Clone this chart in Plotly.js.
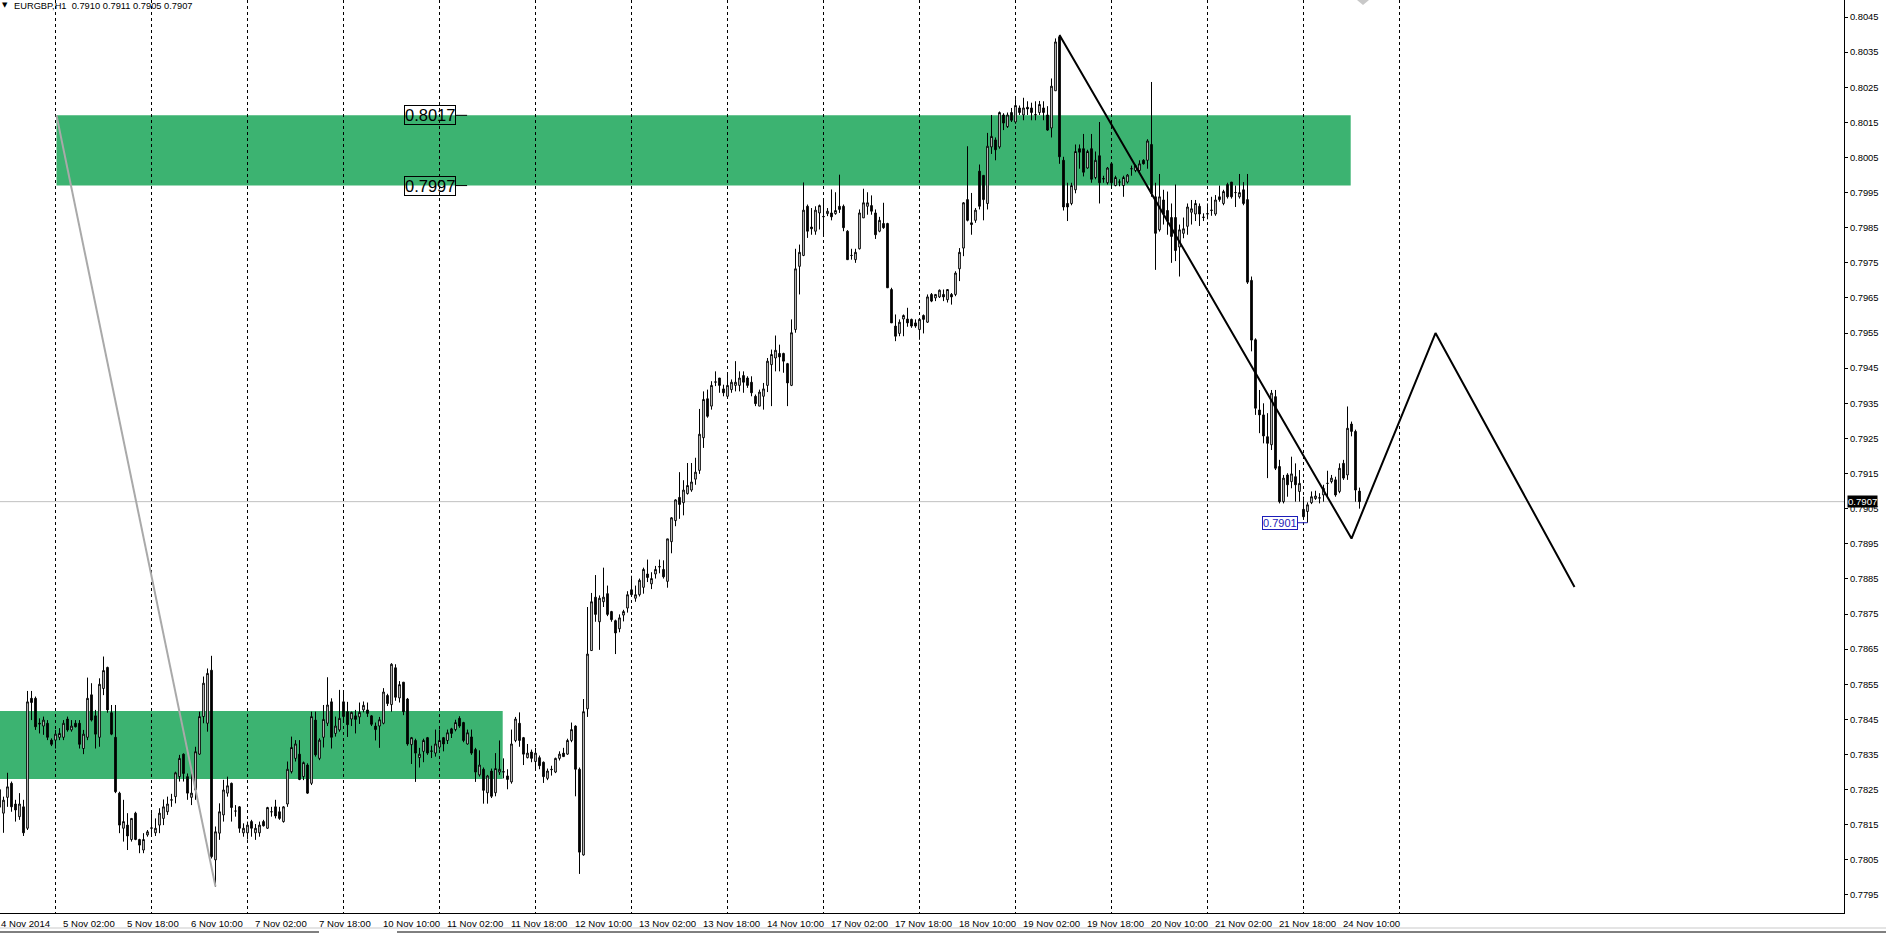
<!DOCTYPE html>
<html><head><meta charset="utf-8">
<script src="https://cdn.plot.ly/plotly-3.0.1.min.js"></script>
<style>html,body{margin:0;padding:0;background:#fff;overflow:hidden}#chart{width:1886px;height:934px}</style>
</head><body><div id="chart"></div>
<script>
// ---------------- DATA ----------------
const symbol = 'EURGBP,H1';
const firstBar = 10; // hourly bar index counted from 4 Nov 2014 00:00 (24 bars per trading day)

const opens = [
.78250,.78183,.78228,.78268,.78209,.78173,.78201,.78140,.78510,.78510,.78439,.78431,.78439,.78391,
.78391,.78399,.78399,.78451,.78420,.78439,.78439,.78367,.78399,.78520,.78460,.78399,.78538,.78598,.78469,.78399,.78240,.78140,.78149,.78108,.78183,.78108,.78078,.78121,
.78140,.78127,.78149,.78168,.78187,.78220,.78230,.78287,.78351,.78287,.78228,.78249,.78351,.78458,.78439,.78590,.78050,.78126,.78178,.78240,.78268,.78189,.78201,.78127,
.78127,.78159,.78127,.78127,.78159,.78140,.78187,.78201,.78187,.78159,.78209,.78301,.78339,.78351,.78287,.78320,.78268,.78448,.78339,.78399,.78439,.78500,.78410,.78420,
.78500,.78472,.78451,.78460,.78457,.78477,.78477,.78460,.78431,.78431,.78439,.78518,.78492,.78597,.78511,.78556,.78508,.78378,.78390,.78341,.78359,.78398,.78359,.78354,
.78371,.78398,.78390,.78423,.78421,.78453,.78441,.78380,.78400,.78364,.78292,.78308,.78241,.78303,.78241,.78300,.78300,.78289,.78272,.78390,.78439,.78398,.78341,.78357,
.78330,.78341,.78328,.78282,.78308,.78300,.78339,.78354,.78351,.78390,.78431,.78308,.78064,.78480,.78646,.78798,.78728,.78785,.78808,.78757,.78731,.78708,.78747,.78767,
.78819,.78795,.78805,.78826,.78864,.78836,.78864,.78884,.78877,.78843,.78956,.79016,.79082,.79067,.79093,.79103,.79134,.79159,.79252,.79363,.79342,.79410,.79422,.79391,
.79370,.79389,.79401,.79401,.79429,.79422,.79410,.79370,.79342,.79370,.79401,.79460,.79479,.79492,.79492,.79463,.79401,.79560,.79740,.79771,.79911,.79852,.79840,.79892,
.79881,.79890,.79892,.79890,.79911,.79911,.79840,.79771,.79759,.79790,.79878,.79911,.79913,.79892,.79840,.79862,.79862,.79674,.79570,.79549,.79590,.79590,.79589,.79579,
.79560,.79600,.79581,.79660,.79650,.79653,.79660,.79645,.79660,.79660,.79733,.79792,.79930,.79864,.79871,.80011,.79999,.79919,.80080,.80100,.80080,.80171,.80138,.80178,
.80151,.80191,.80171,.80193,.80191,.80171,.80178,.80191,.80171,.80134,.80240,.80394,.80042,.79919,.79919,.79958,.80075,.80075,.80020,.80075,.79993,.80055,.79990,.79978,
.80032,.79970,.79980,.79970,.79980,.80018,.80013,.80013,.80042,.80042,.80087,.79938,.79844,.79929,.79899,.79879,.79879,.79795,.79834,.79854,.79894,.79889,.79911,.79879,
.79889,.79899,.79889,.79938,.79919,.79973,.79980,.79950,.79938,.79958,.79930,.79700,.79531,.79331,.79317,.79255,.79232,.79369,.79170,.79070,.79146,.79127,.79141,.79099,
.79048,.79042,.79067,.79079,.79080,.79089,.79122,.79127,.79132,.79099,.79179,.79146,.79291,.79270,.79100
];
const highs = [
.78270,.78230,.78298,.78273,.78221,.78240,.78221,.78531,.78531,.78515,.78453,.78458,.78448,.78396,
.78420,.78425,.78448,.78458,.78448,.78448,.78448,.78420,.78569,.78553,.78477,.78567,.78629,.78600,.78491,.78491,.78244,.78221,.78183,.78168,.78187,.78110,.78126,.78135,
.78183,.78168,.78197,.78222,.78230,.78238,.78301,.78349,.78353,.78296,.78296,.78372,.78472,.78572,.78595,.78631,.78145,.78211,.78278,.78287,.78270,.78206,.78203,.78154,
.78159,.78164,.78152,.78159,.78164,.78201,.78201,.78221,.78201,.78203,.78330,.78401,.78391,.78391,.78330,.78325,.78472,.78472,.78396,.78491,.78570,.78510,.78458,.78534,
.78528,.78500,.78472,.78477,.78498,.78501,.78498,.78462,.78441,.78457,.78539,.78523,.78610,.78607,.78559,.78556,.78511,.78400,.78395,.78369,.78395,.78400,.78375,.78421,
.78421,.78400,.78421,.78426,.78449,.78459,.78443,.78421,.78421,.78369,.78362,.78313,.78292,.78310,.78354,.78390,.78339,.78308,.78421,.78457,.78470,.78400,.78380,.78364,
.78369,.78347,.78330,.78310,.78318,.78341,.78359,.78369,.78395,.78441,.78433,.78313,.78508,.78770,.78810,.78861,.78803,.78882,.78831,.78759,.78734,.78749,.78762,.78815,
.78859,.78831,.78851,.78882,.78905,.78869,.78887,.78905,.78903,.78964,.79026,.79077,.79154,.79131,.79180,.79180,.79195,.79334,.79384,.79389,.79413,.79441,.79422,.79403,
.79437,.79418,.79470,.79441,.79441,.79427,.79427,.79375,.79389,.79408,.79479,.79503,.79543,.79517,.79494,.79465,.79589,.79790,.79802,.79979,.79916,.79906,.79911,.79916,
.79926,.79906,.79959,.79951,.80001,.79916,.79843,.79790,.79790,.79902,.79961,.79951,.79942,.79902,.79881,.79921,.79864,.79679,.79603,.79589,.79603,.79622,.79591,.79589,
.79593,.79603,.79660,.79664,.79660,.79674,.79674,.79674,.79664,.79726,.79792,.79923,.80082,.79949,.79906,.80030,.79999,.80120,.80171,.80107,.80181,.80176,.80178,.80191,
.80216,.80198,.80220,.80210,.80206,.80210,.80211,.80210,.80196,.80275,.80389,.80399,.80052,.79978,.79978,.80087,.80087,.80117,.80072,.80117,.80067,.80151,.79998,.80023,
.80037,.79998,.79988,.79998,.80003,.80027,.80030,.80042,.80045,.80102,.80265,.79978,.80003,.79958,.79953,.79919,.79973,.79859,.79879,.79919,.79929,.79929,.79919,.79891,
.79919,.79938,.79943,.79970,.79958,.79978,.79980,.79970,.80003,.79980,.80003,.79711,.79535,.79388,.79350,.79322,.79388,.79388,.79189,.79146,.79151,.79198,.79179,.79160,
.79084,.79068,.79099,.79101,.79094,.79118,.79158,.79146,.79141,.79179,.79189,.79341,.79298,.79275,.79110
];
const lows = [
.78150,.78127,.78201,.78187,.78159,.78164,.78118,.78135,.78448,.78420,.78410,.78406,.78391,.78374,
.78367,.78391,.78391,.78415,.78415,.78427,.78367,.78351,.78391,.78444,.78367,.78372,.78519,.78469,.78405,.78240,.78126,.78102,.78078,.78102,.78106,.78069,.78069,.78116,
.78118,.78118,.78126,.78149,.78178,.78201,.78211,.78273,.78273,.78221,.78206,.78221,.78349,.78439,.78415,.78054,.77974,.78107,.78159,.78230,.78159,.78173,.78127,.78116,
.78108,.78116,.78107,.78116,.78145,.78138,.78173,.78168,.78164,.78156,.78201,.78296,.78330,.78277,.78277,.78238,.78263,.78344,.78334,.78370,.78431,.78367,.78401,.78415,
.78441,.78400,.78431,.78410,.78437,.78470,.78457,.78431,.78390,.78369,.78436,.78488,.78472,.78503,.78498,.78462,.78375,.78323,.78272,.78313,.78328,.78349,.78340,.78344,
.78364,.78359,.78380,.78397,.78416,.78426,.78385,.78378,.78349,.78272,.78287,.78210,.78210,.78226,.78231,.78292,.78282,.78251,.78267,.78385,.78372,.78320,.78339,.78328,
.78308,.78308,.78269,.78277,.78290,.78297,.78333,.78349,.78349,.78385,.78231,.78010,.78062,.78457,.78646,.78728,.78648,.78770,.78744,.78728,.78636,.78698,.78729,.78754,
.78800,.78785,.78800,.78808,.78841,.78821,.78851,.78866,.78851,.78825,.78923,.79000,.79021,.79031,.79090,.79098,.79118,.79149,.79223,.79309,.79332,.79399,.79380,.79370,
.79366,.79380,.79384,.79384,.79380,.79394,.79370,.79342,.79342,.79332,.79382,.79342,.79441,.79441,.79437,.79342,.79399,.79551,.79660,.79769,.79821,.79830,.79830,.79845,
.79824,.79883,.79871,.79887,.79892,.79840,.79759,.79759,.79750,.79788,.79878,.79887,.79887,.79818,.79837,.79847,.79679,.79579,.79527,.79541,.79541,.79568,.79565,.79565,
.79531,.79549,.79579,.79638,.79641,.79650,.79641,.79637,.79631,.79655,.79698,.79769,.79868,.79830,.79864,.79902,.79871,.79902,.80060,.80042,.80075,.80128,.80134,.80151,
.80146,.80171,.80156,.80171,.80156,.80156,.80171,.80156,.80126,.80107,.80240,.80032,.79899,.79869,.79914,.79948,.80018,.79996,.80018,.79978,.79988,.79919,.79978,.79973,
.79968,.79968,.79968,.79938,.79976,.79998,.80008,.80008,.80030,.80018,.79938,.79730,.79839,.79859,.79830,.79750,.79755,.79711,.79820,.79830,.79859,.79869,.79855,.79869,
.79874,.79884,.79884,.79924,.79914,.79933,.79933,.79909,.79933,.79914,.79690,.79498,.79317,.79265,.79236,.79137,.79217,.79160,.79065,.79065,.79084,.79108,.79070,.79070,
.79018,.79010,.79063,.79075,.79065,.79070,.79084,.79122,.79084,.79094,.79132,.79132,.79256,.79070,.79050
];
const closes = [
.78200,.78220,.78258,.78201,.78192,.78209,.78127,.78500,.78498,.78429,.78437,.78448,.78399,.78379,
.78408,.78410,.78439,.78420,.78431,.78429,.78379,.78408,.78510,.78448,.78408,.78550,.78589,.78477,.78408,.78244,.78149,.78159,.78118,.78168,.78108,.78092,.78108,.78130,
.78141,.78140,.78183,.78201,.78209,.78221,.78298,.78339,.78296,.78240,.78240,.78358,.78458,.78553,.78581,.78059,.78130,.78187,.78249,.78261,.78199,.78189,.78140,.78140,
.78149,.78140,.78140,.78149,.78147,.78199,.78187,.78175,.78168,.78201,.78308,.78370,.78380,.78279,.78327,.78240,.78458,.78349,.78391,.78450,.78491,.78399,.78431,.78453,
.78458,.78435,.78470,.78450,.78470,.78490,.78467,.78436,.78421,.78449,.78528,.78495,.78607,.78513,.78549,.78472,.78380,.78398,.78354,.78351,.78390,.78354,.78360,.78380,
.78390,.78380,.78412,.78410,.78441,.78431,.78390,.78412,.78354,.78300,.78320,.78248,.78289,.78231,.78310,.78308,.78301,.78279,.78380,.78451,.78390,.78351,.78354,.78339,
.78354,.78318,.78287,.78303,.78307,.78339,.78351,.78344,.78390,.78421,.78308,.78072,.78472,.78636,.78785,.78749,.78795,.78798,.78749,.78734,.78696,.78739,.78757,.78805,
.78805,.78805,.78846,.78877,.78854,.78851,.78877,.78885,.78856,.78964,.79024,.79075,.79062,.79103,.79116,.79126,.79154,.79262,.79361,.79313,.79401,.79411,.79401,.79380,
.79401,.79410,.79410,.79422,.79410,.79401,.79380,.79349,.79382,.79391,.79470,.79489,.79501,.79482,.79470,.79408,.79551,.79733,.79780,.79900,.79840,.79847,.79900,.79913,
.79882,.79897,.79881,.79899,.79902,.79850,.79759,.79771,.79780,.79892,.79921,.79921,.79897,.79830,.79871,.79850,.79679,.79579,.79541,.79581,.79600,.79579,.79570,.79570,
.79589,.79589,.79653,.79641,.79660,.79672,.79653,.79674,.79653,.79721,.79780,.79921,.79871,.79859,.79900,.79911,.79930,.80082,.80110,.80072,.80178,.80148,.80171,.80156,
.80198,.80178,.80191,.80188,.80178,.80172,.80201,.80178,.80128,.80253,.80379,.80052,.79909,.79909,.79970,.80067,.80065,.80008,.80067,.79988,.80042,.79978,.79989,.80020,
.79978,.79993,.79980,.79993,.80000,.80018,.80027,.80032,.80032,.80097,.79948,.79834,.79938,.79889,.79869,.79825,.79785,.79844,.79847,.79909,.79904,.79919,.79889,.79880,
.79890,.79900,.79929,.79930,.79953,.79938,.79938,.79950,.79950,.79919,.79695,.79530,.79336,.79317,.79257,.79236,.79379,.79165,.79070,.79137,.79118,.79149,.79118,.79122,
.79027,.79061,.79084,.79086,.79081,.79108,.79122,.79137,.79089,.79165,.79137,.79279,.79270,.79103,.79070
];

const daySeparators = [24,48,72,96,120,144,168,192,216,240,264,288,312,336,360];
const timeLabelBars = [10,26,42,58,74,90,106,122,138,154,170,186,202,218,234,250,266,282,298,314,330,346];
const timeLabels = ['4 Nov 2014','5 Nov 02:00','5 Nov 18:00','6 Nov 10:00','7 Nov 02:00','7 Nov 18:00',
  '10 Nov 10:00','11 Nov 02:00','11 Nov 18:00','12 Nov 10:00','13 Nov 02:00','13 Nov 18:00','14 Nov 10:00',
  '17 Nov 02:00','17 Nov 18:00','18 Nov 10:00','19 Nov 02:00','19 Nov 18:00','20 Nov 10:00','21 Nov 02:00',
  '21 Nov 18:00','24 Nov 10:00'];

// rectangles: [startBar, endBar, upperPrice, lowerPrice]
const upperZone = [24.25, 347.8, 0.8017, 0.7997];
const lowerZone = [0, 135.8, 0.78474, 0.78280];
// trend lines
const greyLineBars = [24.25, 64];
const greyLinePrices = [0.8017, 0.77974];
const zigzagBars = [275, 348, 369, 403.75];
const zigzagPrices = [0.80399, 0.78965, 0.79550, 0.78827];
// price label object
const lowLabelBar = 337;
const lowLabelPrice = 0.7901;

// ---------------- CHART ----------------
const FONT = 'Liberation Sans, Arial, sans-serif';
const X_RANGE = [10.125, 471.125];
const bars = opens.map((_, i) => firstBar + i);
const n = closes.length;
const f4 = v => v.toFixed(4);
const lastClose = closes[n - 1];

const candles = {
  type: 'candlestick', x: bars, open: opens, high: highs, low: lows, close: closes,
  increasing: {line: {color: '#000', width: 1}, fillcolor: '#ffffff'},
  decreasing: {line: {color: '#000', width: 1}, fillcolor: '#000000'},
  whiskerwidth: 0, hoverinfo: 'skip', showlegend: false
};
const greyLine = {type: 'scatter', mode: 'lines', x: greyLineBars, y: greyLinePrices,
  line: {color: '#a9a9a9', width: 2}, hoverinfo: 'skip', showlegend: false};
const zigzag = {type: 'scatter', mode: 'lines', x: zigzagBars, y: zigzagPrices,
  line: {color: '#000', width: 2}, hoverinfo: 'skip', showlegend: false};

const zoneShape = z => ({type: 'rect', xref: 'x', yref: 'y', x0: z[0], x1: z[1], y0: z[3], y1: z[2],
  fillcolor: '#3cb371', line: {width: 0}, layer: 'below'});

const PLOT_H = 913;
const py = px => (PLOT_H - px) / PLOT_H;

const shapes = [
  zoneShape(upperZone), zoneShape(lowerZone),
  {type: 'line', xref: 'paper', yref: 'y', x0: 0, x1: 1, y0: lastClose, y1: lastClose,
   line: {color: '#c0c0c0', width: 1}, layer: 'between'},
  {type: 'path', xref: 'paper', yref: 'paper',
   path: `M ${1357/1844} 1 L ${1369/1844} 1 L ${1363/1844} ${py(5)} Z`,
   fillcolor: '#c8c8c8', line: {width: 0}},
  {type: 'line', xref: 'paper', yref: 'paper', x0: 0, x1: 319/1844, y0: py(932), y1: py(932), line: {color: '#000', width: 1}},
  {type: 'line', xref: 'paper', yref: 'paper', x0: 397/1844, x1: 1886/1844, y0: py(932), y1: py(932), line: {color: '#000', width: 1}},
  {type: 'line', xref: 'paper', yref: 'paper', x0: 0, x1: 1886/1844, y0: py(928), y1: py(928), line: {color: '#e4e4e4', width: 2}}
];

const annotations = [];
annotations.push({xref: 'paper', yref: 'paper', x: 0, y: 1, xanchor: 'left', yanchor: 'top', xshift: 0, yshift: 1,
  text: '\u25BC', showarrow: false, font: {family: 'DejaVu Sans', size: 7, color: '#000'}});
annotations.push({xref: 'paper', yref: 'paper', x: 0, y: 1, xanchor: 'left', yanchor: 'top', xshift: 12, yshift: 1,
  text: symbol + '\u00a0\u00a0' + [opens[n-1], highs[n-1], lows[n-1], closes[n-1]].map(f4).join(' '),
  showarrow: false, font: {family: FONT, size: 9.3, color: '#000'}});

timeLabelBars.forEach((b, i) => annotations.push({
  xref: 'x', yref: 'paper', x: Math.max(b, X_RANGE[0]), y: 0, xanchor: 'left', yanchor: 'top',
  xshift: b < X_RANGE[0] ? -1 : -3, yshift: -3,
  text: timeLabels[i], showarrow: false, font: {family: FONT, size: 9.6, color: '#000'}
}));

[upperZone[2], upperZone[3]].forEach(p => annotations.push({
  xref: 'x', yref: 'y', x: 126.9, y: p, ax: -37, ay: 0, axref: 'pixel', ayref: 'pixel',
  text: f4(p), showarrow: true, arrowhead: 0, arrowwidth: 1, arrowcolor: '#000',
  bordercolor: '#000', borderwidth: 1, borderpad: 0, font: {family: FONT, size: 16.5, color: '#000'}
}));

annotations.push({xref: 'x', yref: 'y', x: lowLabelBar, y: lowLabelPrice, ax: -28, ay: 0,
  text: f4(lowLabelPrice), showarrow: true, arrowhead: 0, arrowwidth: 1, arrowcolor: '#1c1cb8',
  bordercolor: '#1c1cb8', borderwidth: 1, borderpad: 0, font: {family: FONT, size: 11, color: '#1c1cb8'}});

annotations.push({xref: 'paper', yref: 'y', x: 1, y: lastClose, xanchor: 'left', yanchor: 'middle', xshift: 3,
  text: f4(lastClose), showarrow: false, bgcolor: '#000', borderpad: 0,
  font: {family: FONT, size: 9.6, color: '#fff'}});

const layout = {
  width: 1886, height: 934,
  margin: {l: 0, r: 42, t: 0, b: 21, pad: 0},
  paper_bgcolor: '#fff', plot_bgcolor: '#fff',
  showlegend: false, hovermode: false, boxgap: 0.4,
  xaxis: {
    type: 'linear', range: X_RANGE, rangeslider: {visible: false},
    tickmode: 'array', tickvals: daySeparators, showticklabels: false, ticks: '',
    showgrid: true, gridcolor: '#000', gridwidth: 1, griddash: '3px,3px',
    showline: true, linecolor: '#000', linewidth: 1, zeroline: false, fixedrange: true
  },
  yaxis: {
    side: 'right', range: [0.778987, 0.804984], tickmode: 'linear', tick0: 0.7795, dtick: 0.001,
    tickformat: '.4f', ticks: 'outside', ticklen: 3, tickcolor: '#000',
    tickfont: {family: FONT, size: 9.4, color: '#000'},
    showgrid: false, showline: true, linecolor: '#000', linewidth: 1, zeroline: false, fixedrange: true
  },
  shapes: shapes, annotations: annotations
};

Plotly.newPlot('chart', [candles, greyLine, zigzag], layout, {staticPlot: true, displayModeBar: false});
</script>
</body></html>
